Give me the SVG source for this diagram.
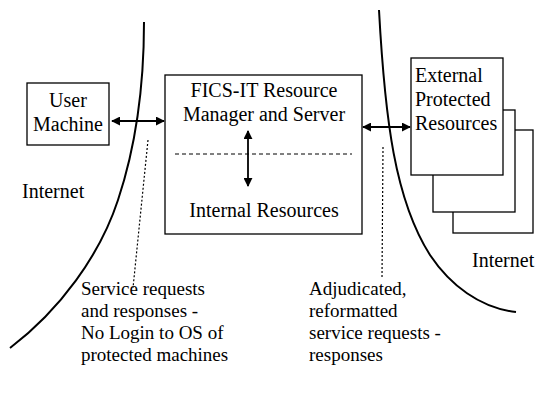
<svg xmlns="http://www.w3.org/2000/svg" width="536" height="400" viewBox="0 0 536 400">
<style>
  .box{fill:#fff;stroke:#000;stroke-width:1.3}
  .t{font-family:"Liberation Serif","Times New Roman",serif;font-size:20px;fill:#000}
  .a{font-family:"Liberation Serif","Times New Roman",serif;font-size:19px;fill:#000}
  .curve{fill:none;stroke:#000;stroke-width:2}
  .arr{stroke:#000;stroke-width:1.8;fill:none;marker-start:url(#ah);marker-end:url(#ah)}
  .dot{stroke:#000;stroke-width:1.2;stroke-dasharray:2 2;fill:none}
  .dash{stroke:#000;stroke-width:1;stroke-dasharray:4 3;fill:none}
</style>
<defs>
  <marker id="ah" viewBox="0 0 10 10" refX="9" refY="5" markerWidth="9" markerHeight="9" markerUnits="userSpaceOnUse" orient="auto-start-reverse">
    <path d="M0,0 L10,5 L0,10 z" fill="#000"/>
  </marker>
</defs>
<rect width="536" height="400" fill="#fff"/>
<g id="internet-boundaries">
  <path class="curve" d="M144,22 C144,80 138,140 118,200 C100,255 60,310 10,348"/>
  <path class="curve" d="M379,10 C385,120 395,200 430,255 C450,285 480,308 516,312"/>
</g>
<g id="user-machine">
  <rect class="box" x="27" y="83" width="82" height="62"/>
  <text class="t" x="68" y="107" text-anchor="middle">User</text>
  <text class="t" x="68" y="131" text-anchor="middle">Machine</text>
</g>
<g id="fics-server">
  <rect class="box" x="165" y="75" width="197" height="159"/>
  <text class="t" x="264" y="97" text-anchor="middle">FICS-IT Resource</text>
  <text class="t" x="264" y="121" text-anchor="middle">Manager and Server</text>
  <line class="dash" x1="175" y1="154" x2="352" y2="154"/>
  <text class="t" x="264" y="217" text-anchor="middle">Internal Resources</text>
</g>
<g id="external-resources">
  <rect class="box" x="453" y="130" width="80" height="103"/>
  <rect class="box" x="433" y="110" width="82" height="102"/>
  <rect class="box" x="411" y="58" width="92" height="117"/>
  <text class="t" x="415" y="82">External</text>
  <text class="t" x="415" y="106">Protected</text>
  <text class="t" x="415" y="130">Resources</text>
</g>
<g id="connectors">
  <line class="arr" x1="112" y1="121" x2="164" y2="121"/>
  <line class="arr" x1="363" y1="127" x2="410" y2="127"/>
  <line class="arr" x1="248" y1="131" x2="248" y2="186"/>
  <line class="dot" x1="148" y1="140" x2="133" y2="288"/>
  <line class="dot" x1="383" y1="147" x2="382" y2="278"/>
</g>
<g id="labels">
  <text class="t" x="22" y="198">Internet</text>
  <text class="t" x="472" y="267">Internet</text>
  <text class="a" x="81" y="295">Service requests</text>
  <text class="a" x="81" y="317">and responses -</text>
  <text class="a" x="81" y="339">No Login to OS of</text>
  <text class="a" x="81" y="361">protected machines</text>
  <text class="a" x="309" y="295">Adjudicated,</text>
  <text class="a" x="309" y="317">reformatted</text>
  <text class="a" x="309" y="339">service requests -</text>
  <text class="a" x="309" y="361">responses</text>
</g>
</svg>
